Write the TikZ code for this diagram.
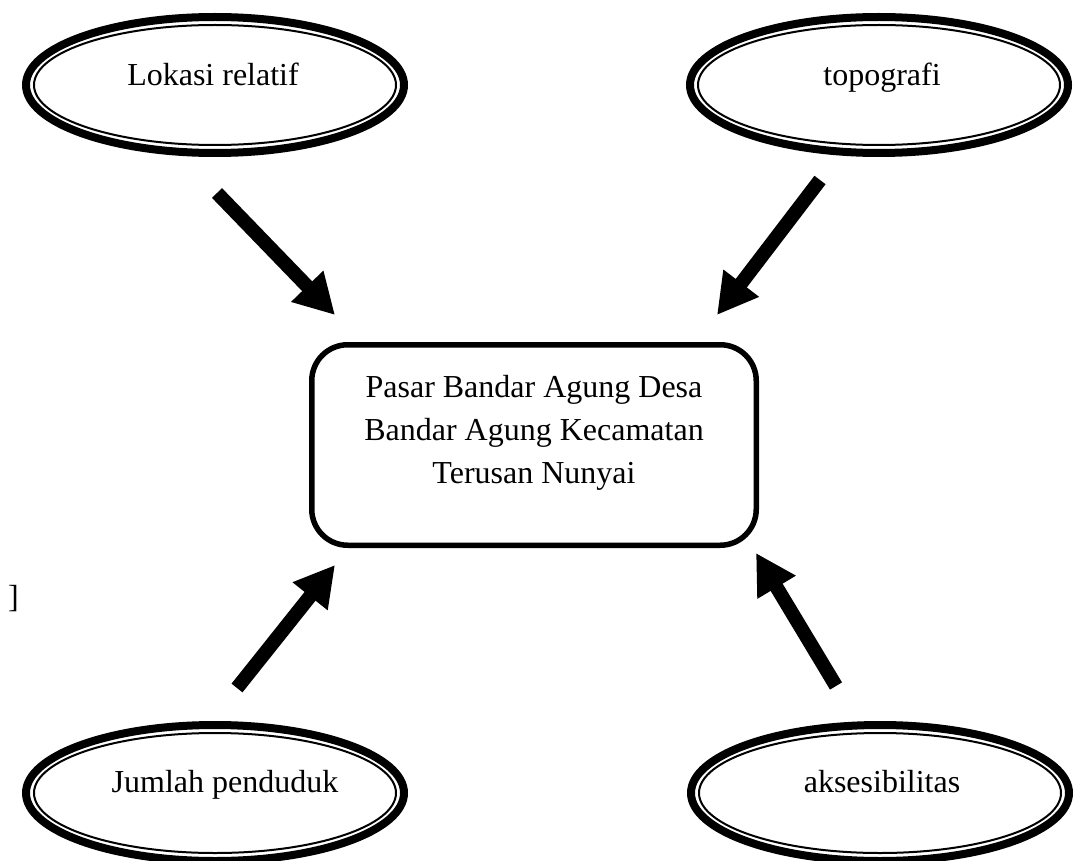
\documentclass[tikz,border=0pt]{standalone}
\usepackage{fontspec}
\setmainfont{Liberation Serif}
\usetikzlibrary{shapes.geometric,arrows.meta}
\begin{document}
\begin{tikzpicture}[x=1pt,y=-1pt,
  oval/.style={ellipse,draw,line width=8pt,minimum width=378pt,minimum height=136pt,inner sep=0pt},
  ovalin/.style={line width=2pt},
  lbl/.style={font=\fontsize{32}{43}\selectfont,inner sep=0pt,anchor=base},
  centerbox/.style={draw,line width=5.5pt,rounded corners=36pt,minimum width=444.5pt,minimum height=200.5pt,inner sep=0pt},
  boxtext/.style={font=\fontsize{32}{43}\selectfont,align=center,inner sep=0pt},
  bigarrow/.style={line width=14pt,-{Triangle[length=40pt,width=42pt]}}
]
\useasboundingbox (0,0) rectangle (1073,861);
% ellipses
\node[oval] (e1) at (215,85) {};
\draw[ovalin] (e1.center) ellipse [x radius=181pt, y radius=60pt];
\node[lbl] (t1) at (213,86) {Lokasi relatif};

\node[oval] (e2) at (879,85) {};
\draw[ovalin] (e2.center) ellipse [x radius=181pt, y radius=60pt];
\node[lbl] (t2) at (882,86) {topografi};

\node[oval] (e3) at (215,793) {};
\draw[ovalin] (e3.center) ellipse [x radius=181pt, y radius=60pt];
\node[lbl] (t3) at (225,792) {Jumlah penduduk};

\node[oval] (e4) at (880,793) {};
\draw[ovalin] (e4.center) ellipse [x radius=181pt, y radius=60pt];
\node[lbl] (t4) at (882,792) {aksesibilitas};

% center box
\node[centerbox] (box) at (534,445) {};
\node[boxtext] (boxlbl) at ([yshift=12.5pt]box.center) {Pasar Bandar Agung Desa\\Bandar Agung Kecamatan\\Terusan Nunyai};

% stray bracket
\node[lbl,anchor=base west] (br) at (8,607) {]};

% arrows
\coordinate (a1s) at (217,193);
\coordinate (a1e) at (335,315);
\coordinate (a2s) at (820,180);
\coordinate (a2e) at (717,315);
\coordinate (a3s) at (237,688);
\coordinate (a3e) at (335,565);
\coordinate (a4s) at (836,686);
\coordinate (a4e) at (756,553);
\draw[bigarrow] (a1s) -- (a1e);
\draw[bigarrow] (a2s) -- (a2e);
\draw[bigarrow] (a3s) -- (a3e);
\draw[bigarrow] (a4s) -- (a4e);
\end{tikzpicture}
\end{document}
